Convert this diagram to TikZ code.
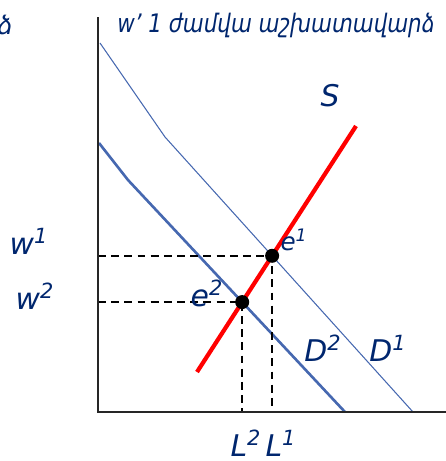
\documentclass[tikz,border=0pt]{standalone}
\usepackage{fontspec}
\setmainfont{DejaVu Sans}
\usetikzlibrary{intersections}
\definecolor{navy}{RGB}{0,38,110}
\definecolor{dblue}{RGB}{70,104,176}

\begin{document}
\begin{tikzpicture}[x=0.02cm,y=-0.02cm,
  lbl/.style={text=navy,font=\itshape\fontsize{17}{17}\selectfont,inner sep=0pt},
  ttlfont/.style={font=\itshape\fontsize{14.5}{15}\selectfont},
  dot/.style={circle,fill=black,inner sep=0pt,minimum size=0.28cm},
  guide/.style={line width=0.9pt,dash pattern=on 4.5pt off 3pt}]
\useasboundingbox (0,0) rectangle (446,461);
\coordinate (O) at (98,412); \coordinate (Y) at (98,17); \coordinate (X) at (446,412);
\coordinate (A1) at (100,43); \coordinate (B1) at (165,137); \coordinate (C1) at (413,412);
\coordinate (A2) at (99,143); \coordinate (B2) at (128,180); \coordinate (C2) at (345,412);
\coordinate (S0) at (197,372); \coordinate (S1) at (356,126);
% demand and supply
\draw[dblue,line width=0.6pt,name path=d1] (A1)--(B1)--(C1);
\draw[dblue,line width=1.5pt,name path=d2] (A2)--(B2)--(C2);
\draw[red,line width=2.4pt,name path=sup] (S0)--(S1);
\path[name intersections={of=sup and d1,by=p1}];
\path[name intersections={of=sup and d2,by=p2}];
\node[dot] (e1) at (p1) {};
\node[dot] (e2) at (p2) {};
\coordinate (w1) at (O |- e1); \coordinate (w2) at (O |- e2);
\coordinate (l1) at (O -| e1); \coordinate (l2) at (O -| e2);
\draw[guide] (w1)--(e1.center)--(l1);
\draw[guide] (w2)--(e2.center)--(l2);
% axes
\draw[black!85,line width=0.9pt] (Y)--(O)--(X);
% labels
\node[lbl,ttlfont,anchor=west] (ttl) at (117,25) {\resizebox{6.35cm}{\height}{w\symbol{39} 1 ժամվա աշխատավարձ}};
\node[lbl,ttlfont,anchor=west] (cut) at (-3,25) {ձ};
\node[lbl] (lw1) at (29,241) {w\textsuperscript{1}};
\node[lbl] (lw2) at (35,296) {w\textsuperscript{2}};
\node[lbl,font=\itshape\fontsize{14}{14}\selectfont] (le1) at (294,240) {e\textsuperscript{1}};
\node[lbl] (le2) at (207,293) {e\textsuperscript{2}};
\node[lbl] (ls) at (330,96) {S};
\node[lbl] (ld2) at (323,348) {D\textsuperscript{2}};
\node[lbl] (ld1) at (388,348) {D\textsuperscript{1}};
\node[lbl] (ll2) at (246,443) {L\textsuperscript{2}};
\node[lbl] (ll1) at (281,443) {L\textsuperscript{1}};
\end{tikzpicture}
\end{document}
